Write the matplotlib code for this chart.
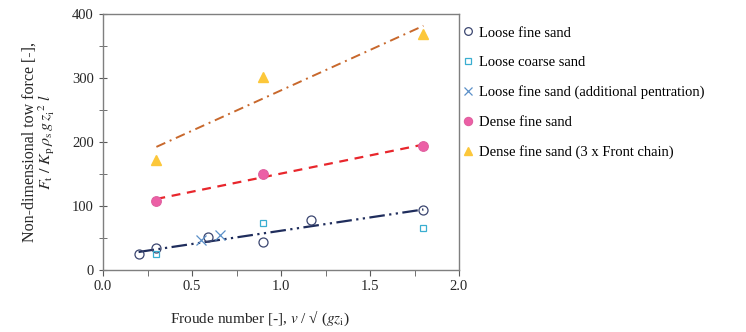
import numpy as np
import matplotlib
matplotlib.use('Agg')
import matplotlib.pyplot as plt
from matplotlib.ticker import MultipleLocator

plt.rcParams['font.family'] = ['Liberation Serif', 'DejaVu Serif']
plt.rcParams['mathtext.fontset'] = 'stix'

# data
loose_fine_x = [0.2, 0.3, 0.59, 0.9, 1.17, 1.8]
loose_fine_y = [25, 34, 52, 43, 78, 93]
loose_coarse_x = [0.3, 0.9, 1.8]
loose_coarse_y = [25, 74, 65]
loose_add_x = [0.55, 0.66]
loose_add_y = [47, 55]
dense_x = [0.3, 0.9, 1.8]
dense_y = [108, 150, 194]
dense3_x = [0.3, 0.9, 1.8]
dense3_y = [172, 302, 368]

fig = plt.figure(figsize=(7.46, 3.32), dpi=100)
ax = fig.add_axes([103 / 746, 1 - 270 / 332, 356 / 746, 256 / 332])

# trend lines (linear fits)
def trend(x, y, **kw):
    p = np.polyfit(x, y, 1)
    xs = np.array([min(x), max(x)])
    ax.plot(xs, np.polyval(p, xs), zorder=2, **kw)

trend(loose_fine_x, loose_fine_y, color='#1f2d5c', lw=1.6, dashes=[7, 2, 1, 2, 1, 2])
trend(dense_x, dense_y, color='#e8262c', lw=1.6, dashes=[4, 3])
trend(dense3_x, dense3_y, color='#c8682c', lw=1.4, dashes=[5, 2.5, 1, 2.5])

ax.plot(loose_fine_x, loose_fine_y, 'o', ms=6.5, mfc='none', mec='#3b4670', mew=0.9,
        label='Loose fine sand', zorder=3)
ax.plot(loose_coarse_x, loose_coarse_y, 's', ms=5, mfc='none', mec='#3aaed0', mew=0.9,
        label='Loose coarse sand', zorder=3)
ax.plot(loose_add_x, loose_add_y, 'x', ms=7, mec='#5b8fc8', mew=0.9,
        label='Loose fine sand (additional pentration)', zorder=3)
ax.plot(dense_x, dense_y, 'o', ms=7, mfc='#ec5fa6', mec='#e0609f', mew=0.8,
        label='Dense fine sand', zorder=3)
ax.plot(dense3_x, dense3_y, '^', ms=7.5, mfc='#fcc73a', mec='#fcc73a',
        label='Dense fine sand (3 x Front chain)', zorder=3)

ax.set_xlim(0, 2.0)
ax.set_ylim(0, 400)
ax.xaxis.set_major_locator(MultipleLocator(0.5))
ax.xaxis.set_minor_locator(MultipleLocator(0.25))
ax.yaxis.set_major_locator(MultipleLocator(100))
ax.yaxis.set_minor_locator(MultipleLocator(50))
ax.set_xticks(np.arange(0, 2.01, 0.5))
ax.set_xticklabels(['0.0', '0.5', '1.0', '1.5', '2.0'])
ax.tick_params(which='both', colors='#595959', labelcolor='#262626',
               labelsize=10.5, top=False, right=False, length=4)
ax.tick_params(axis='x', which='both', direction='out')
ax.tick_params(axis='y', which='both', direction='inout', length=6)
for s in ax.spines.values():
    s.set_color('#7f7f7f')
    s.set_linewidth(1.0)

ax.set_xlabel(r'Froude number [-], $v$ / √ ($gz_\mathrm{i}$)', fontsize=11, color='#262626')
ax.xaxis.set_label_coords(0.44, -0.15)
ax.set_ylabel('Non-dimensional tow force [-],\n'
              r'$F_\mathrm{t}\ /\ K_\mathrm{p}\,\rho_\mathrm{s}\,g\,z_\mathrm{i}^{\ 2}\ l$',
              fontsize=11.5, color='#262626', linespacing=0.95)
ax.yaxis.set_label_coords(-0.128, 0.5)

ax.legend(loc='upper left', bbox_to_anchor=(1.0, 0.969), frameon=False, fontsize=10.5,
          handlelength=0.6, handletextpad=0.5, borderaxespad=0.3, labelspacing=1.12,
          borderpad=0.0, numpoints=1, markerscale=0.85)

fig.savefig('out.png', dpi=100)
